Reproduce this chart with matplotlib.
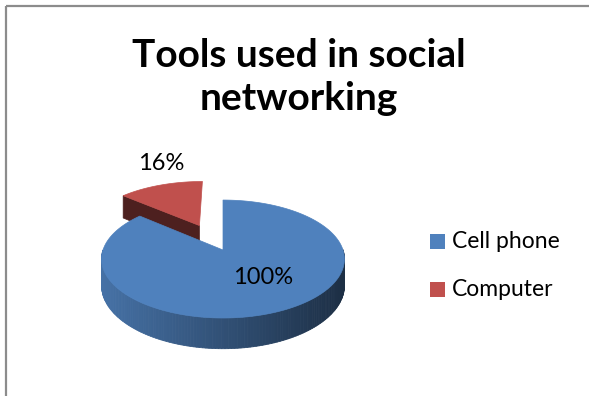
import numpy as np
import matplotlib.pyplot as plt
from matplotlib.patches import Polygon, Rectangle
from matplotlib.colors import to_rgb

categories = ["Cell phone", "Computer"]
percent = [100, 16]
colors = ["#4F81BD", "#C0504D"]
explode = [0.0, 0.5]
title_lines = ["Tools used in social", "networking"]

# label anchor positions (pixels)
label_pos = [(263, 278), (161, 164)]

# 3d pie projection, everything in pixel units
CX, CY = 223, 250
R = 120
K = 0.153
SIN_A, COS_A = 0.48, 0.877
H = 0.247

plt.rcParams['font.family'] = ['Lato', 'DejaVu Sans']


def proj(x, y, z):
    p = 1.0 / (1.0 + K * y)
    return CX + R * x * p, CY - R * (y * SIN_A + z * COS_A) * p


def shade(c, f):
    r, g, b = to_rgb(c)
    return (r * f, g * f, b * f)


fig = plt.figure(figsize=(5.89, 3.96), dpi=100)
ax = fig.add_axes([0, 0, 1, 1])
ax.set_xlim(0, 589)
ax.set_ylim(396, 0)
ax.axis('off')

# slices go clockwise from 12 o'clock
total = sum(percent)
slices = []
start = 90.0
for i, v in enumerate(percent):
    span = 360.0 * v / total
    a0, a1 = start - span, start
    mid = np.radians((a0 + a1) / 2)
    ox, oy = explode[i] * np.cos(mid), explode[i] * np.sin(mid)
    slices.append((i, a0, a1, ox, oy))
    start = a0

# far slices first
slices.sort(key=lambda s: -s[4])

for i, a0, a1, ox, oy in slices:
    col = colors[i]
    t = np.radians(np.linspace(a0, a1, 240))
    xs = ox + np.cos(t)
    ys = oy + np.sin(t)

    # outer wall, only the part facing the viewer
    for j in range(len(t) - 1):
        tm = (t[j] + t[j + 1]) / 2
        if np.sin(tm) >= 0:
            continue
        p1 = proj(xs[j], ys[j], 0)
        p2 = proj(xs[j + 1], ys[j + 1], 0)
        p3 = proj(xs[j + 1], ys[j + 1], -H)
        p4 = proj(xs[j], ys[j], -H)
        f = 0.88 - 0.52 * np.clip((p1[0] - 101) / 244, 0, 1)
        c = shade(col, f)
        ax.add_patch(Polygon([p1, p2, p3, p4], closed=True, facecolor=c,
                             edgecolor=c, linewidth=0.6))

    # cut faces
    for ang, normal in ((a0, a0 - 90), (a1, a1 + 90)):
        if np.sin(np.radians(normal)) > -1e-3:
            continue
        ex = ox + np.cos(np.radians(ang))
        ey = oy + np.sin(np.radians(ang))
        pts = [proj(ox, oy, 0), proj(ex, ey, 0), proj(ex, ey, -H), proj(ox, oy, -H)]
        c = shade(col, 0.4)
        ax.add_patch(Polygon(pts, closed=True, facecolor=c, edgecolor=c, linewidth=0.5))

    # top face
    top = [proj(ox, oy, 0)] + [proj(x, y, 0) for x, y in zip(xs, ys)]
    ax.add_patch(Polygon(top, closed=True, facecolor=col, edgecolor=col, linewidth=0.5))

# value labels
for (lx, ly), v in zip(label_pos, percent):
    ax.text(lx, ly, f"{v}%", fontsize=17, ha='center', va='center', color='black')

# title
ax.text(298.5, 67, title_lines[0], fontsize=28, fontweight='bold',
        ha='center', va='baseline')
ax.text(298.5, 110, title_lines[1], fontsize=28, fontweight='bold',
        ha='center', va='baseline')

# legend
for k, (name, col) in enumerate(zip(categories, colors)):
    y = 241.5 + 48 * k
    ax.add_patch(Rectangle((430, y - 7.5), 15, 15, facecolor=col, edgecolor='none'))
    ax.text(452, y + 7, name, fontsize=16.5, ha='left', va='baseline')

# chart frame (partly cropped)
ax.plot([5.5, 5.5], [396, 5.5], color='#8c8c8c', linewidth=1.6, solid_capstyle='butt')
ax.plot([5.5, 589], [5.5, 5.5], color='#8c8c8c', linewidth=1.6, solid_capstyle='butt')

fig.savefig("out.png", dpi=100)
